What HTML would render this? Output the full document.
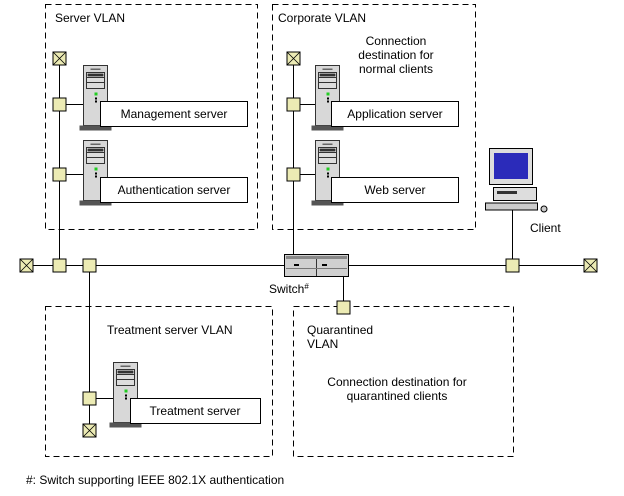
<!DOCTYPE html>
<html><head><style>body{margin:0;background:#fff}svg{display:block}text{font-family:"Liberation Sans",sans-serif;font-size:12px;fill:#000}</style></head><body>
<svg width="624" height="496" viewBox="0 0 624 496" xmlns="http://www.w3.org/2000/svg">
<defs>
<g id="srv">
<rect x="0" y="0" width="24" height="60" fill="#d8d8d8" stroke="#333" stroke-width="1"/>
<rect x="7" y="3" width="10" height="1.5" fill="#666"/>
<rect x="3" y="7" width="18" height="5" fill="#fff" stroke="#333"/>
<rect x="4" y="8" width="16" height="3" fill="#333"/>
<rect x="3" y="12" width="18" height="11" fill="#ddd" stroke="#333"/>
<line x1="3" y1="17" x2="21" y2="17" stroke="#333"/>
<rect x="11" y="27" width="3" height="3" fill="#2c2"/>
<rect x="11.5" y="32" width="2" height="2" fill="#000"/>
<rect x="11.5" y="35" width="2" height="2" fill="#000"/>
<rect x="-4" y="60" width="32" height="5" fill="#555"/>
</g>
<g id="nd"><rect x="-6.5" y="-6.5" width="13" height="13" fill="#ecebb4" stroke="#000"/></g>
<g id="tm"><rect x="-6.5" y="-6.5" width="13" height="13" fill="#ecebb4" stroke="#000"/><path d="M-6.5,-6.5L6.5,6.5M6.5,-6.5L-6.5,6.5" stroke="#000" stroke-width="0.8"/></g>
</defs>
<g fill="none" stroke="#000" stroke-dasharray="6,4">
<rect x="45.5" y="4.5" width="212" height="225"/>
<rect x="272.5" y="4.5" width="203" height="225"/>
<rect x="45.5" y="306.5" width="227" height="150"/>
<rect x="293.5" y="306.5" width="220" height="150"/>
</g>
<g stroke="#000" stroke-width="1">
<line x1="26" y1="265.5" x2="590" y2="265.5"/>
<line x1="59.5" y1="58" x2="59.5" y2="265"/>
<line x1="89.5" y1="265" x2="89.5" y2="432"/>
<line x1="293.5" y1="58" x2="293.5" y2="265"/>
<line x1="343.5" y1="265" x2="343.5" y2="306"/>
<line x1="512.5" y1="210" x2="512.5" y2="265"/>
<line x1="59" y1="104.5" x2="85" y2="104.5"/>
<line x1="59" y1="174.5" x2="85" y2="174.5"/>
<line x1="293" y1="104.5" x2="318" y2="104.5"/>
<line x1="293" y1="174.5" x2="318" y2="174.5"/>
<line x1="89" y1="398.5" x2="115" y2="398.5"/>
</g>
<use href="#srv" x="83.5" y="65.5"/>
<use href="#srv" x="83.5" y="140.5"/>
<use href="#srv" x="315.5" y="65.5"/>
<use href="#srv" x="315.5" y="140.5"/>
<use href="#srv" x="113.5" y="362.5"/>
<g fill="#fff" stroke="#000">
<rect x="100.5" y="101.5" width="147" height="25"/>
<rect x="100.5" y="177.5" width="147" height="25"/>
<rect x="331.5" y="101.5" width="127" height="25"/>
<rect x="331.5" y="177.5" width="127" height="25"/>
<rect x="130.5" y="398.5" width="130" height="25"/>
</g>
<use href="#tm" x="59.5" y="58.5"/><use href="#nd" x="59.5" y="104.5"/><use href="#nd" x="59.5" y="174.5"/>
<use href="#tm" x="293.5" y="58.5"/><use href="#nd" x="293.5" y="104.5"/><use href="#nd" x="293.5" y="174.5"/>
<use href="#tm" x="26.5" y="265.5"/><use href="#nd" x="59.5" y="265.5"/><use href="#nd" x="89.5" y="265.5"/>
<use href="#nd" x="512.5" y="265.5"/><use href="#tm" x="590.5" y="265.5"/>
<use href="#nd" x="343.5" y="307.5"/>
<use href="#nd" x="89.5" y="398.5"/><use href="#tm" x="89.5" y="430.5"/>
<!-- switch -->
<rect x="284.5" y="254.5" width="64" height="22" fill="#d0d0d0" stroke="#000"/>
<rect x="286" y="256" width="61" height="3" fill="#888"/>
<line x1="316.5" y1="259" x2="316.5" y2="276" stroke="#333"/>
<rect x="294" y="264" width="5" height="2" fill="#000"/><rect x="322" y="264" width="5" height="2" fill="#000"/>
<line x1="286" y1="268.5" x2="347" y2="268.5" stroke="#777"/>
<!-- client -->
<rect x="489.5" y="148.5" width="43" height="36" fill="#ddd" stroke="#000"/>
<rect x="494" y="153" width="34" height="26" fill="#1c1c9c"/>
<rect x="494" y="153" width="34" height="26" fill="#3a3ad8" opacity="0.5"/>
<rect x="493.5" y="187.5" width="43" height="13" fill="#ddd" stroke="#000"/>
<rect x="497" y="191" width="20" height="3" fill="#333"/>
<rect x="485.5" y="203" width="52" height="7" fill="#ccc" stroke="#000"/>
<circle cx="544" cy="209" r="3" fill="#ccc" stroke="#000"/>
<text x="55" y="22">Server VLAN</text>
<text x="278" y="22">Corporate VLAN</text>
<text x="396" y="45" text-anchor="middle">Connection</text>
<text x="396" y="59" text-anchor="middle">destination for</text>
<text x="396" y="73" text-anchor="middle">normal clients</text>
<text x="174" y="118" text-anchor="middle">Management server</text>
<text x="174" y="194" text-anchor="middle">Authentication server</text>
<text x="395" y="118" text-anchor="middle">Application server</text>
<text x="395" y="194" text-anchor="middle">Web server</text>
<text x="530" y="232">Client</text>
<text x="269" y="293">Switch<tspan font-size="8" dy="-4">#</tspan></text>
<text x="107" y="334">Treatment server VLAN</text>
<text x="307" y="334">Quarantined</text>
<text x="307" y="348">VLAN</text>
<text x="397" y="386" text-anchor="middle">Connection destination for</text>
<text x="397" y="400" text-anchor="middle">quarantined clients</text>
<text x="195" y="415" text-anchor="middle">Treatment server</text>
<text x="26" y="484">#: Switch supporting IEEE 802.1X authentication</text>
</svg>
</body></html>
